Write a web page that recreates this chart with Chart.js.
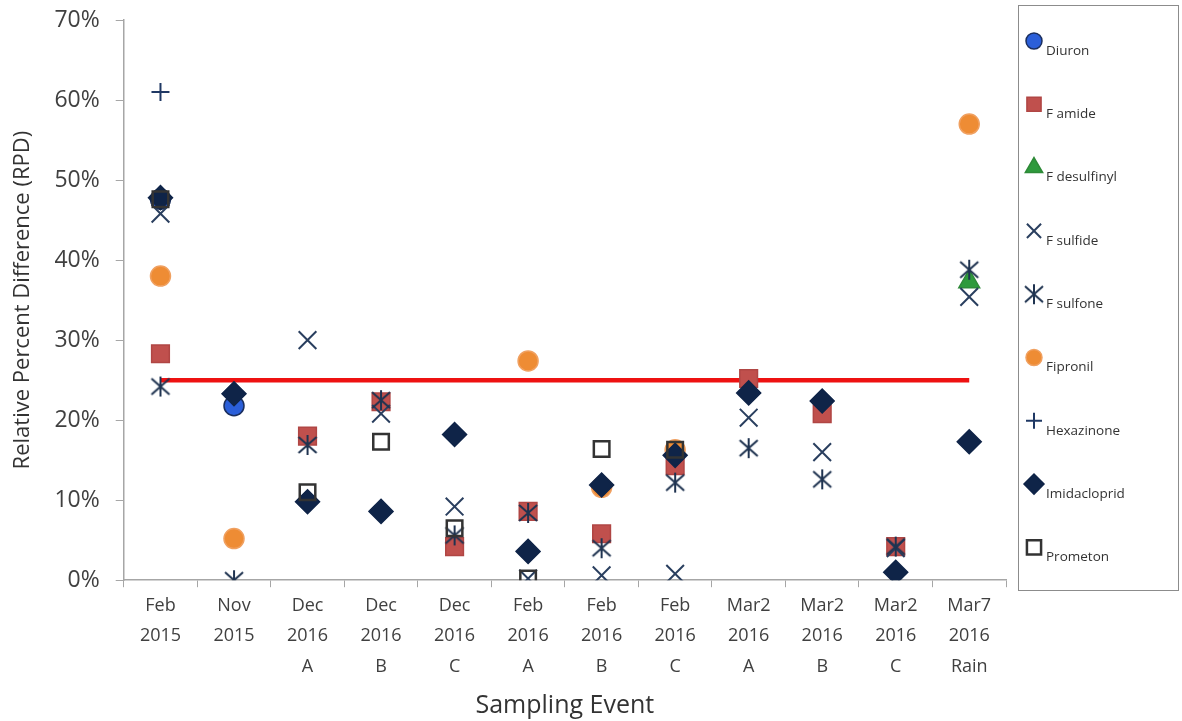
<!DOCTYPE html>
<html>
<head>
<meta charset="utf-8">
<script src="https://cdn.jsdelivr.net/npm/chart.js"></script>
<style>
  html, body { margin: 0; padding: 0; background: #fff; }
  #wrap { width: 1182px; height: 721px; position: relative; }
</style>
</head>
<body>
<div id="wrap"><canvas id="rpdChart"></canvas></div>
<script>
// Sampling events (x axis)
const events = [
    ['Feb', '2015'], ['Nov', '2015'],
    ['Dec', '2016', 'A'], ['Dec', '2016', 'B'], ['Dec', '2016', 'C'],
    ['Feb', '2016', 'A'], ['Feb', '2016', 'B'], ['Feb', '2016', 'C'],
    ['Mar2', '2016', 'A'], ['Mar2', '2016', 'B'], ['Mar2', '2016', 'C'],
    ['Mar7', '2016', 'Rain']
];
const yTicks = [0, 10, 20, 30, 40, 50, 60, 70];
const threshold = 25;

// RPD values (%) per compound, one per sampling event
const diuron       = [47.6, 21.8, null, null, null, null, null, null, null, null, null, null];
const fAmide       = [28.3, null, 18.0, 22.3, 4.2, 8.6, 5.8, 14.3, 25.2, 20.8, 4.2, null];
const fDesulfinyl  = [null, null, null, null, null, null, null, null, null, null, null, 37.3];
const fSulfide     = [45.8, null, 30.0, 20.8, 9.2, 0.2, 0.6, 0.8, 20.3, 16.0, 4.0, 35.4];
const fSulfone     = [24.2, 0.0, 16.9, 22.5, 5.6, 8.4, 4.0, 12.2, 16.5, 12.6, 4.2, 38.8];
const fipronil     = [38.0, 5.2, null, null, null, 27.4, 11.6, 16.3, null, null, null, 57.0];
const hexazinone   = [61.0, null, null, null, null, null, null, null, null, null, null, null];
const imidacloprid = [47.8, 23.3, 9.8, 8.6, 18.2, 3.6, 11.9, 15.6, 23.4, 22.4, 1.0, 17.3];
const prometon     = [47.6, null, 11.0, 17.3, 6.5, 0.2, 16.4, 16.3, null, null, null, null];

// asterisk marker (X with a vertical stroke), like the Excel one
function makeAsterisk(color) {
    const c = document.createElement('canvas');
    c.width = 24; c.height = 24;
    const g = c.getContext('2d');
    g.strokeStyle = color;
    g.lineWidth = 2;
    g.beginPath();
    g.moveTo(3, 4); g.lineTo(21, 20);
    g.moveTo(21, 4); g.lineTo(3, 20);
    g.moveTo(12, 2); g.lineTo(12, 22);
    g.stroke();
    return c;
}
const asterisk = makeAsterisk('#1f3350');

function series(label, data, style) {
    return Object.assign({ label: label, data: data, showLine: false, borderWidth: 1.5 }, style);
}

const datasets = [
    series('Diuron', diuron, { pointStyle: 'circle', pointRadius: 10, backgroundColor: '#2b5fd9', borderColor: '#1b2f5e' }),
    series('F amide', fAmide, { pointStyle: 'rect', pointRadius: 12.5, backgroundColor: '#c0504d', borderColor: '#b04644' }),
    series('F desulfinyl', fDesulfinyl, { pointStyle: 'triangle', pointRadius: 12, backgroundColor: '#2e9a3c', borderColor: '#2e8a38' }),
    series('F sulfide', fSulfide, { pointStyle: 'crossRot', pointRadius: 12.5, backgroundColor: '#2a3f5f', borderColor: '#2a3f5f', borderWidth: 2 }),
    series('F sulfone', fSulfone, { pointStyle: asterisk, pointRadius: 12, backgroundColor: '#1f3350', borderColor: '#1f3350' }),
    series('Fipronil', fipronil, { pointStyle: 'circle', pointRadius: 10, backgroundColor: '#ee8c34', borderColor: '#f0a060' }),
    series('Hexazinone', hexazinone, { pointStyle: 'cross', pointRadius: 9, backgroundColor: '#1f3864', borderColor: '#1f3864', borderWidth: 2 }),
    series('Imidacloprid', imidacloprid, { pointStyle: 'rectRot', pointRadius: 12, backgroundColor: '#0f2448', borderColor: '#0f2448' }),
    series('Prometon', prometon, { pointStyle: 'rect', pointRadius: 11, backgroundColor: 'rgba(255,255,255,0)', borderColor: '#333333', borderWidth: 2.5 })
];
// later series sit on top, as in the original
datasets.forEach((d, i) => { d.order = datasets.length - i; });

datasets.push({
    label: 'Threshold',
    data: events.map(() => threshold),
    borderColor: '#ee1111',
    borderWidth: 4.5,
    pointRadius: 0,
    fill: false,
    order: 100
});

// boxed legend on the right, labels sitting a little below the marker
const boxLegend = {
    id: 'boxLegend',
    afterDraw(chart) {
        const ctx = chart.ctx;
        const left = 1018, top = 5, right = 1178, bottom = 590;
        ctx.save();
        ctx.strokeStyle = '#8c8c8c';
        ctx.lineWidth = 1;
        ctx.strokeRect(left + 0.5, top + 0.5, right - left, bottom - top);
        const items = chart.data.datasets.filter(d => d.label !== 'Threshold');
        items.forEach((d, i) => {
            const y = 41 + i * 63.3;
            const x = 1034;
            ctx.fillStyle = d.backgroundColor;
            ctx.strokeStyle = d.borderColor;
            ctx.lineWidth = d.borderWidth;
            const r = d.pointStyle === 'cross' ? 8 : (d.pointRadius > 10 ? 10 : 8);
            if (Chart.helpers && Chart.helpers.drawPoint) {
                Chart.helpers.drawPoint(ctx, { pointStyle: d.pointStyle, radius: r, rotation: 0, borderWidth: d.borderWidth }, x, y);
            }
            ctx.fillStyle = '#333';
            ctx.font = '13.5px "Open Sans", sans-serif';
            ctx.textBaseline = 'middle';
            ctx.fillText(d.label, x + 12, y + 10);
        });
        ctx.restore();
    }
};

const ctx = document.getElementById('rpdChart').getContext('2d');
new Chart(ctx, {
    type: 'line',
    data: { labels: events, datasets: datasets },
    plugins: [boxLegend],
    options: {
        responsive: true,
        maintainAspectRatio: false,
        animation: false,
        layout: { padding: { top: 20, right: 176, bottom: 0, left: 6 } },
        plugins: {
            legend: { display: false },
            tooltip: { enabled: false }
        },
        scales: {
            x: {
                offset: true,
                grid: { offset: true, drawOnChartArea: false, drawTicks: true, tickLength: 7, color: '#a6a6a6' },
                border: { color: '#a6a6a6', width: 1.5 },
                ticks: { color: '#404040', font: { size: 18, family: '"Open Sans", sans-serif', lineHeight: 1.7 }, maxRotation: 0, padding: 3 },
                title: { display: true, text: 'Sampling Event', color: '#333', font: { size: 25, family: '"Open Sans", sans-serif' }, padding: { top: 6, bottom: 0 } }
            },
            y: {
                min: 0,
                max: 70,
                afterBuildTicks: axis => { axis.ticks = yTicks.map(v => ({ value: v })); },
                afterFit: s => { s.paddingTop = 0; s.paddingBottom = 0; },
                grid: { drawOnChartArea: false, drawTicks: true, tickLength: 8, color: '#a6a6a6' },
                border: { color: '#a6a6a6', width: 1.5 },
                ticks: { color: '#404040', font: { size: 23, family: '"Open Sans", sans-serif' }, padding: 16, callback: v => v + '%' },
                title: { display: true, text: 'Relative Percent Difference (RPD)', color: '#333', font: { size: 22, family: '"Open Sans", sans-serif' }, padding: { bottom: 2 } }
            }
        }
    }
});
</script>
</body>
</html>
